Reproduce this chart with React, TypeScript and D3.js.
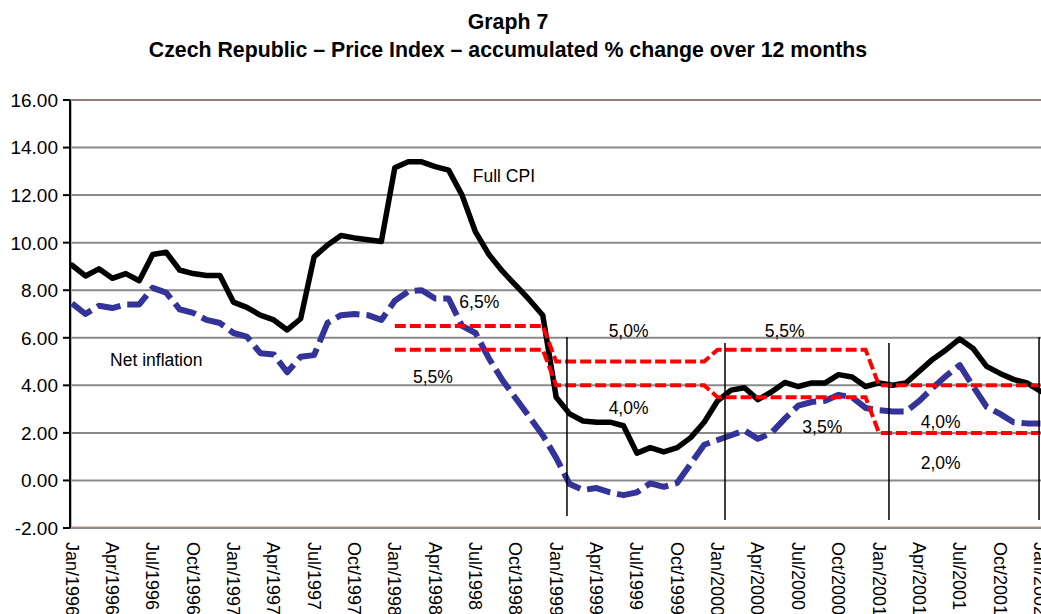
import React from "react";
import * as d3 from "d3";

const W = 1041;
const H = 614;

// Monthly series Jan/1996 .. Jan/2002 (73 months)
const fullCPI = [
  9.05, 8.6, 8.9, 8.5, 8.7, 8.4, 9.5, 9.6, 8.85, 8.7, 8.62, 8.62,
  7.5, 7.28, 6.95, 6.75, 6.33, 6.8, 9.4, 9.9, 10.3, 10.2, 10.12, 10.05,
  13.15, 13.4, 13.4, 13.2, 13.05, 12.0, 10.45, 9.5, 8.8, 8.2, 7.6, 6.95,
  3.5, 2.8, 2.5, 2.45, 2.45, 2.3, 1.15, 1.38, 1.2, 1.38, 1.8, 2.45,
  3.35, 3.8, 3.9, 3.4, 3.72, 4.12, 3.95, 4.1, 4.1, 4.45, 4.35, 3.95,
  4.1, 4.0, 4.1, 4.6, 5.1, 5.5, 5.95, 5.55, 4.8, 4.5, 4.25, 4.1,
  3.75,
];

const netInflation = [
  7.45, 7.0, 7.35, 7.25, 7.4, 7.4, 8.1, 7.9, 7.2, 7.05, 6.75, 6.62,
  6.2, 6.05, 5.35, 5.3, 4.55, 5.2, 5.27, 6.63, 6.95, 7.0, 6.95, 6.75,
  7.56, 7.95, 8.0, 7.65, 7.65, 6.5, 6.2, 5.13, 4.22, 3.45, 2.68, 1.9,
  0.95, -0.15, -0.4, -0.32, -0.5, -0.62, -0.5, -0.12, -0.27, -0.1, 0.7, 1.5,
  1.7, 1.9, 2.1, 1.75, 2.0, 2.6, 3.15, 3.3, 3.35, 3.6, 3.5, 3.05,
  2.95, 2.9, 2.9, 3.35, 3.9, 4.4, 4.85, 3.95, 3.1, 2.8, 2.45, 2.4,
  2.4,
];

const tickLabels = [
  "Jan/1996", "Apr/1996", "Jul/1996", "Oct/1996",
  "Jan/1997", "Apr/1997", "Jul/1997", "Oct/1997",
  "Jan/1998", "Apr/1998", "Jul/1998", "Oct/1998",
  "Jan/1999", "Apr/1999", "Jul/1999", "Oct/1999",
  "Jan/2000", "Apr/2000", "Jul/2000", "Oct/2000",
  "Jan/2001", "Apr/2001", "Jul/2001", "Oct/2001",
  "Jan/2002",
];
const tickMonths = [0, 3, 6, 9, 12, 15, 18, 21, 24, 27, 30, 33, 36, 39, 42, 45, 48, 51, 54, 57, 60, 63, 66, 69, 72];

const yTicks = [-2, 0, 2, 4, 6, 8, 10, 12, 14, 16];

// inflation target bands: [month index, value]
const targetUpper: [number, number][] = [
  [24, 6.5], [35, 6.5], [36, 5.0], [47, 5.0], [48, 5.5], [59, 5.5], [60, 4.0], [72, 4.0],
];
const targetLower: [number, number][] = [
  [24, 5.5], [35, 5.5], [36, 4.0], [47, 4.0], [48, 3.5], [59, 3.5], [60, 2.0], [72, 2.0],
];

// thin vertical year separators: month position, top value, bottom value
const sepMonths = [36.8, 48.55, 60.74, 71.9];
const sepTops = [6.03, 5.78, 5.78, 6.03];
const sepBottoms = [-1.5, -1.66, -1.66, -1.66];

// text annotations: label, month position, baseline value
const noteTexts = ["Full CPI", "Net inflation", "6,5%", "5,5%", "5,0%", "4,0%", "5,5%", "3,5%", "4,0%", "2,0%"];
const noteMonths = [29.8, 2.83, 28.8, 25.35, 39.9, 39.9, 51.5, 54.3, 63.1, 63.1];
const noteValues = [12.55, 4.8, 7.24, 4.08, 6.03, 2.8, 6.03, 2.0, 2.21, 0.49];

const FONT = "'Liberation Sans', Arial, sans-serif";

export default function App() {
  const x = d3.scaleLinear().domain([0, 72]).range([72, 1040.4]);
  const y = d3.scaleLinear().domain([-2, 16]).range([528, 100]);
  const xLeft = 70;
  const xRight = W;

  const line = d3
    .line<number>()
    .x((_, i) => x(i))
    .y((d) => y(d));
  const bandLine = d3
    .line<[number, number]>()
    .x((d) => x(d[0]))
    .y((d) => y(d[1]));

  return (
    <div style={{ position: "absolute", left: 0, top: 0 }}>
      <svg width={W} height={H} style={{ display: "block", background: "#fff" }}>
        {/* title */}
        <text x={508} y={29} textAnchor="middle" fontFamily={FONT} fontWeight="bold" fontSize={21.3} fill="#000">
          Graph 7
        </text>
        <text x={508} y={57} textAnchor="middle" fontFamily={FONT} fontWeight="bold" fontSize={21.3} fill="#000">
          Czech Republic – Price Index – accumulated % change over 12 months
        </text>

        {/* gridlines */}
        {yTicks.map((t) => {
          const isTop = t === 16;
          const isBottom = t === -2;
          return (
            <g key={"g" + t}>
              <line
                x1={xLeft}
                x2={xRight}
                y1={y(t)}
                y2={y(t)}
                stroke={isTop ? "#9a7878" : "#8a8a8a"}
                strokeWidth={2}
              />
              {isBottom && (
                <line x1={xLeft} x2={xRight} y1={y(t) - 1.2} y2={y(t) - 1.2} stroke="#d89a9a" strokeWidth={0.8} />
              )}
            </g>
          );
        })}

        {/* y axis */}
        <line x1={xLeft} x2={xLeft} y1={y(16)} y2={y(-2)} stroke="#000" strokeWidth={2} />
        <line x1={xLeft + 1.5} x2={xLeft + 1.5} y1={y(16)} y2={y(-2)} stroke="#c89a9a" strokeWidth={0.8} />
        {yTicks.map((t) => (
          <g key={"t" + t}>
            <line x1={63} x2={xLeft} y1={y(t)} y2={y(t)} stroke="#000" strokeWidth={2} />
            <text
              x={58}
              y={y(t)}
              dy="0.36em"
              textAnchor="end"
              fontFamily={FONT}
              fontSize={19}
              fill="#000"
            >
              {t.toFixed(2)}
            </text>
          </g>
        ))}

        {/* x labels */}
        {tickLabels.map((lab, i) => (
          <text
            key={lab}
            transform={`translate(${x(tickMonths[i])},${542}) rotate(90)`}
            dy="0.36em"
            textAnchor="start"
            fontFamily={FONT}
            fontSize={18}
            fill="#000"
          >
            {lab}
          </text>
        ))}

        {/* series */}
        <path
          d={line(netInflation) || ""}
          fill="none"
          stroke="#333399"
          strokeWidth={6}
          strokeDasharray="24,7"
          strokeLinejoin="round"
        />
        <path
          d={line(fullCPI) || ""}
          fill="none"
          stroke="#000"
          strokeWidth={5.5}
          strokeLinejoin="round"
          strokeLinecap="round"
        />

        {/* target bands */}
        {[targetUpper, targetLower].map((b, k) => (
          <path
            key={"b" + k}
            d={bandLine(b) || ""}
            fill="none"
            stroke="#ff0000"
            strokeWidth={4}
            strokeDasharray="11,4"
          />
        ))}

        {/* separators */}
        {sepMonths.map((m, i) => (
          <line
            key={"s" + i}
            x1={x(m)}
            x2={x(m)}
            y1={y(sepTops[i])}
            y2={y(sepBottoms[i])}
            stroke="#000"
            strokeWidth={1.5}
          />
        ))}

        {/* annotations */}
        {noteTexts.map((t, i) => (
          <text
            key={"n" + i}
            x={x(noteMonths[i])}
            y={y(noteValues[i])}
            fontFamily={FONT}
            fontSize={17.5}
            fill="#000"
          >
            {t}
          </text>
        ))}
      </svg>
    </div>
  );
}
